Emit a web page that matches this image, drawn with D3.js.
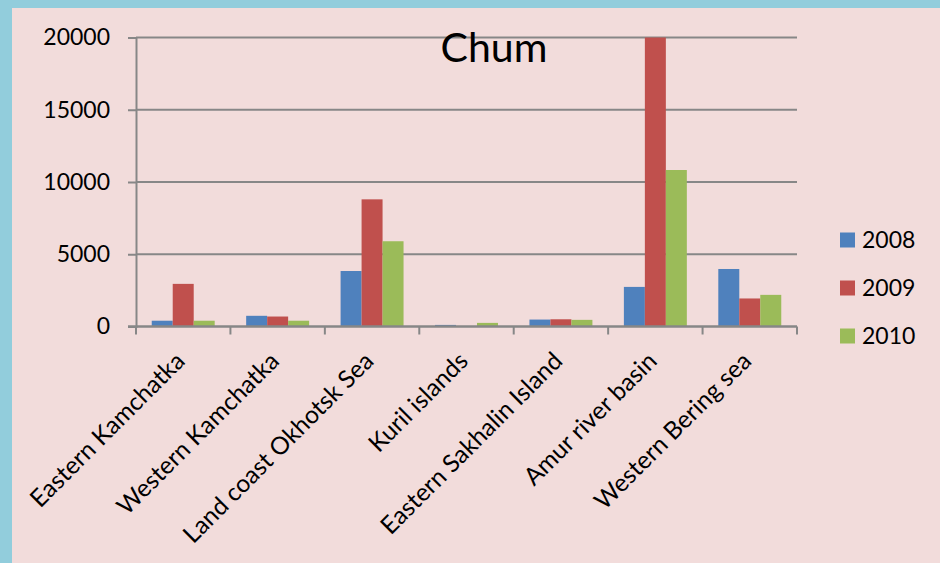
<!DOCTYPE html>
<html>
<head>
<meta charset="utf-8">
<script src="https://cdn.jsdelivr.net/npm/d3@7"></script>
<style>
  html, body { margin: 0; padding: 0; background: #92CDDC; }
  svg { display: block; }
</style>
</head>
<body>
<svg id="chart" width="940" height="563"></svg>
<script>
// Chum catch by region, 2008–2010
const regions = [
  "Eastern Kamchatka", "Western Kamchatka", "Land coast Okhotsk Sea",
  "Kuril islands", "Eastern Sakhalin Island", "Amur river basin", "Western Bering sea"
];
const years = ["2008", "2009", "2010"];
const values2008 = [400, 740, 3840, 110, 480, 2740, 3980];
const values2009 = [2950, 690, 8800, 0, 500, 20000, 1940];
const values2010 = [400, 400, 5900, 250, 460, 10830, 2190];
const yTicks = [0, 5000, 10000, 15000, 20000];
const colors = ["#4F81BD", "#C0504D", "#9BBB59"];

const series = [values2008, values2009, values2010];
const rows = regions.map((r, i) => ({ region: r, vals: series.map(s => s[i]) }));

const svg = d3.select("#chart");
const W = 940, H = 563;
const font = "Lato, 'Open Sans', sans-serif";

// pink chart panel inside the blue frame
svg.append("rect").attr("x", 12).attr("y", 8).attr("width", W - 12).attr("height", H - 8)
  .attr("fill", "#F2DCDB");

const plot = { left: 136, right: 797, top: 37.5, bottom: 326.5 };

const x = d3.scaleBand().domain(regions).range([plot.left, plot.right]).paddingInner(0).paddingOuter(0);
// three bars per region with a gap of 1.5 bar widths between groups
const xInner = d3.scaleBand().domain(years).range([0, x.bandwidth()]).paddingInner(0).paddingOuter(0.75);
const y = d3.scaleLinear().domain([0, 20000]).range([plot.bottom, plot.top]);

// horizontal gridlines
svg.append("g").selectAll("line").data(yTicks.filter(t => t > 0)).join("line")
  .attr("x1", plot.left).attr("x2", plot.right)
  .attr("y1", d => y(d)).attr("y2", d => y(d))
  .attr("stroke", "#878787").attr("stroke-width", 2);

// y axis
const yAxis = svg.append("g").attr("transform", `translate(${plot.left},0)`)
  .call(d3.axisLeft(y).tickValues(yTicks).tickSize(8).tickPadding(18).tickFormat(d3.format("d")));
yAxis.select(".domain").attr("stroke", "#878787").attr("stroke-width", 2);
yAxis.selectAll(".tick line").attr("stroke", "#878787").attr("stroke-width", 2);
yAxis.selectAll(".tick text").attr("font-family", font).attr("font-size", 23).attr("fill", "#000");

// bars
const groups = svg.append("g").selectAll("g").data(rows).join("g")
  .attr("transform", d => `translate(${x(d.region)},0)`);
groups.selectAll("rect").data(d => d.vals.map((v, k) => ({ year: years[k], v, k }))).join("rect")
  .attr("x", d => xInner(d.year))
  .attr("width", xInner.bandwidth())
  .attr("y", d => y(d.v))
  .attr("height", d => plot.bottom - y(d.v))
  .attr("fill", d => colors[d.k]);

// x axis
const xAxis = svg.append("g").attr("transform", `translate(0,${plot.bottom})`);
xAxis.append("line").attr("x1", plot.left - 8).attr("x2", plot.right)
  .attr("stroke", "#878787").attr("stroke-width", 2.5);
const edges = regions.map(r => x(r)).concat([plot.right]);
xAxis.selectAll("line.tk").data(edges).join("line").attr("class", "tk")
  .attr("x1", d => d).attr("x2", d => d).attr("y1", 0).attr("y2", 8)
  .attr("stroke", "#878787").attr("stroke-width", 2);

// rotated category labels
svg.append("g").selectAll("text").data(regions).join("text")
  .attr("transform", d => `translate(${x(d) + x.bandwidth() / 2 - 3},${plot.bottom + 30}) rotate(-45)`)
  .attr("text-anchor", "end")
  .attr("dy", "0.35em")
  .attr("font-family", font).attr("font-size", 24.5).attr("fill", "#000")
  .text(d => d);

// title
svg.append("text").attr("x", 494).attr("y", 62).attr("text-anchor", "middle")
  .attr("font-family", font).attr("font-size", 41).attr("fill", "#000").text("Chum");

// legend
const legend = svg.append("g").selectAll("g").data(years).join("g")
  .attr("transform", (d, i) => `translate(840,${240 + i * 48})`);
legend.append("rect").attr("x", 0).attr("y", -7.5).attr("width", 15).attr("height", 15)
  .attr("fill", (d, i) => colors[i]);
legend.append("text").attr("x", 22).attr("dy", "0.36em")
  .attr("font-family", font).attr("font-size", 23).attr("fill", "#000").text(d => d);
</script>
</body>
</html>
